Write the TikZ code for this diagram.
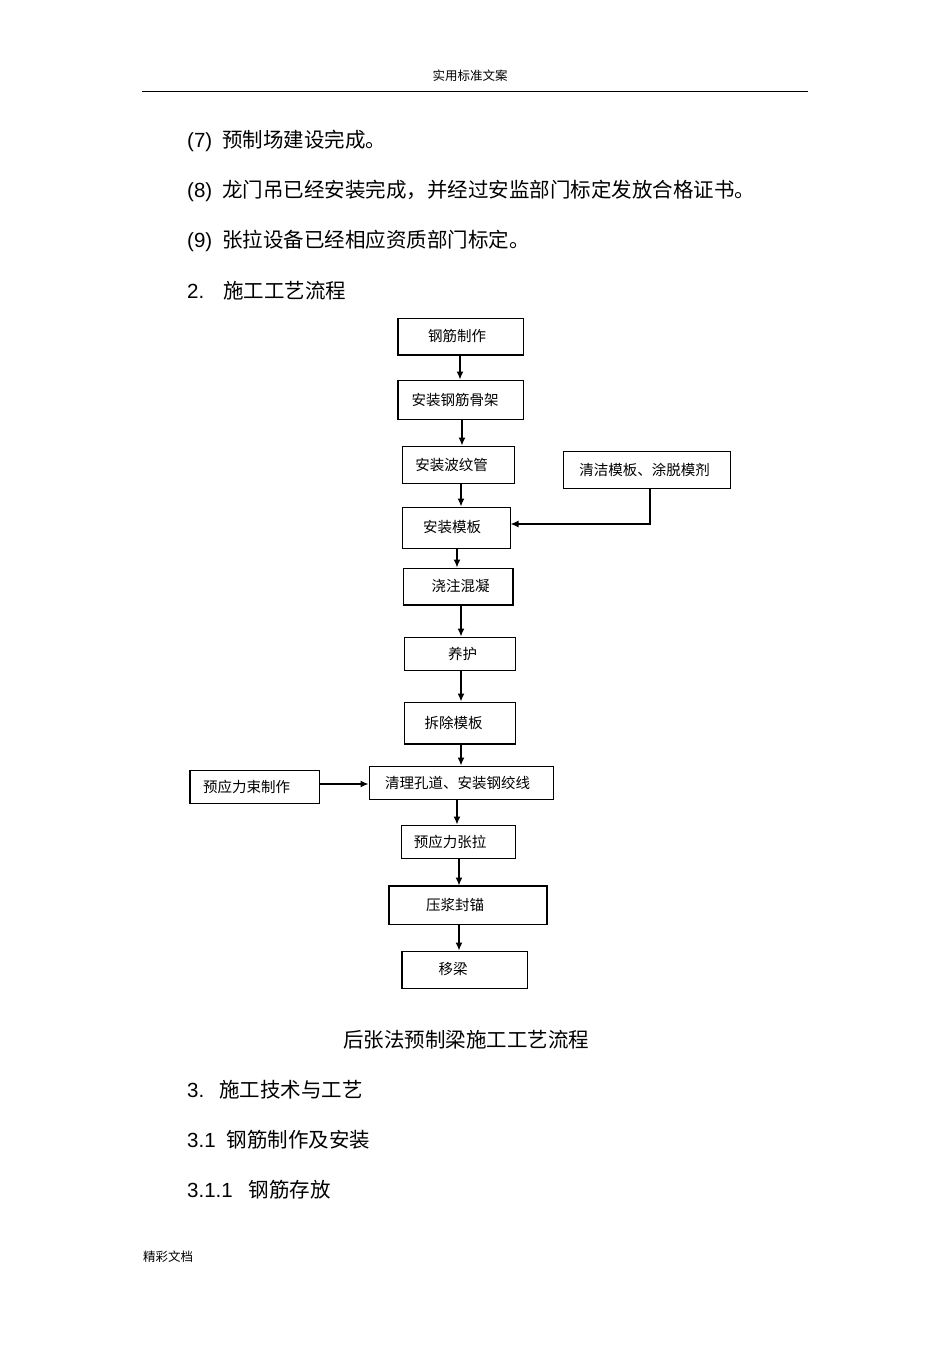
\documentclass[tikz,border=0pt]{standalone}
\usepackage{fontspec}
\setmainfont{Liberation Sans}
\newfontfamily\cjk{Noto Sans CJK SC}
\usetikzlibrary{arrows.meta}
\begin{document}
\begin{tikzpicture}[x=1pt,y=-1pt,
  stepbox/.style={draw, line width=1pt, inner sep=0pt, font=\cjk\fontsize{14.5}{16}\selectfont},
  flow/.style={line width=1.3pt, -{Latex[length=8pt,width=7pt]}},
  thickside/.style={line width=2pt},
  body/.style={anchor=west, inner sep=0pt, font=\fontsize{20.5}{22}\selectfont},
  small/.style={inner sep=0pt, font=\cjk\fontsize{12.5}{14}\selectfont}]
\useasboundingbox (0,0) rectangle (950,1345);
\fill[white] (0,0) rectangle (950,1345);
% header / footer
\node[small] (hdr) at (470,76) {实用标准文案};
\draw[line width=0.9pt] (142,91) coordinate (hl) -- (808,91) coordinate (hr);
\node[small, anchor=west] (ftr) at (143,1257) {精彩文档};
% body text
\node[body] (t7) at (187,141) {(7)\hspace{10pt}{\cjk 预制场建设完成。}};
\node[body] (t8) at (187,191) {(8)\hspace{10pt}{\cjk 龙门吊已经安装完成，并经过安监部门标定发放合格证书。}};
\node[body] (t9) at (187,241) {(9)\hspace{10pt}{\cjk 张拉设备已经相应资质部门标定。}};
\node[body] (t2) at (187,291) {2.\hspace{19pt}{\cjk 施工工艺流程}};
\node[inner sep=0pt, font=\cjk\fontsize{20.5}{22}\selectfont] (cap) at (466,1040) {后张法预制梁施工工艺流程};
\node[body] (t3) at (187,1090) {3.\hspace{15pt}{\cjk 施工技术与工艺}};
\node[body] (t31) at (187,1140) {3.1\hspace{11pt}{\cjk 钢筋制作及安装}};
\node[body] (t311) at (187,1190) {3.1.1\hspace{16pt}{\cjk 钢筋存放}};
% boxes
\node[stepbox, minimum width=125pt, minimum height=36pt] (b1) at (460.5,336) {\hspace*{-7pt}钢筋制作};
\node[stepbox, minimum width=125pt, minimum height=39pt] (b2) at (460.5,399.5) {\hspace*{-11pt}安装钢筋骨架};
\node[stepbox, minimum width=112pt, minimum height=37pt] (b3) at (458,464.5) {\hspace*{-13pt}安装波纹管};
\node[stepbox, minimum width=167pt, minimum height=37pt] (bc) at (646.5,469.5) {\hspace*{-4pt}清洁模板、涂脱模剂};
\node[stepbox, minimum width=108pt, minimum height=41pt] (b4) at (456,527.5) {\hspace*{-8pt}安装模板};
\node[stepbox, minimum width=109pt, minimum height=36pt] (b5) at (457.5,586) {\hspace*{6pt}浇注混凝};
\node[stepbox, minimum width=111pt, minimum height=33pt] (b6) at (459.5,653.5) {\hspace*{6pt}养护};
\node[stepbox, minimum width=111pt, minimum height=41pt] (b7) at (459.5,722.5) {\hspace*{-12pt}拆除模板};
\node[stepbox, minimum width=129pt, minimum height=33pt] (bp) at (254.5,786.5) {\hspace*{-16pt}预应力束制作};
\node[stepbox, minimum width=184pt, minimum height=33pt] (b8) at (461,782.5) {\hspace*{-7pt}清理孔道、安装钢绞线};
\node[stepbox, minimum width=114pt, minimum height=33pt] (b9) at (458,841.5) {\hspace*{-16pt}预应力张拉};
\node[stepbox, minimum width=157pt, minimum height=38pt] (b10) at (467.5,905) {\hspace*{-25pt}压浆封锚};
\node[stepbox, minimum width=125pt, minimum height=37pt] (b11) at (464.5,969.5) {\hspace*{-23pt}移梁};
% heavier box sides
\draw[thickside] (b1.north west) -- (b1.south west) -- (b1.south east);
\draw[thickside] (b2.north west) -- (b2.south west);
\draw[thickside] (b5.north east) -- (b5.south east) -- (b5.south west);
\draw[thickside] (b7.south west) -- (b7.south east);
\draw[thickside] (bp.north west) -- (bp.south west);
\draw[thickside] (b10.south west) -- (b10.north west) -- (b10.north east) -- (b10.south east);
\draw[thickside] (b11.north west) -- (b11.south west);
% connectors
\draw[flow] (b1.south -| 460,0) -- (b2.north -| 460,0);
\draw[flow] (b2.south -| 462,0) -- (b3.north -| 462,0);
\draw[flow] (b3.south -| 461,0) -- (b4.north -| 461,0);
\draw[flow] (b4.south -| 457,0) -- (b5.north -| 457,0);
\draw[flow] (b5.south -| 461,0) -- (b6.north -| 461,0);
\draw[flow] (b6.south -| 461,0) -- (b7.north -| 461,0);
\draw[flow] (b7.south -| 461,0) -- (b8.north -| 461,0);
\draw[flow] (b8.south -| 457,0) -- (b9.north -| 457,0);
\draw[flow] (b9.south -| 459,0) -- (b10.north -| 459,0);
\draw[flow] (b10.south -| 459,0) -- (b11.north -| 459,0);
\draw[flow] (bc.south -| 650,0) |- (b4.east |- 0,524);
\draw[flow] (bp.east |- 0,784) -- (b8.west |- 0,784);
\end{tikzpicture}
\end{document}
